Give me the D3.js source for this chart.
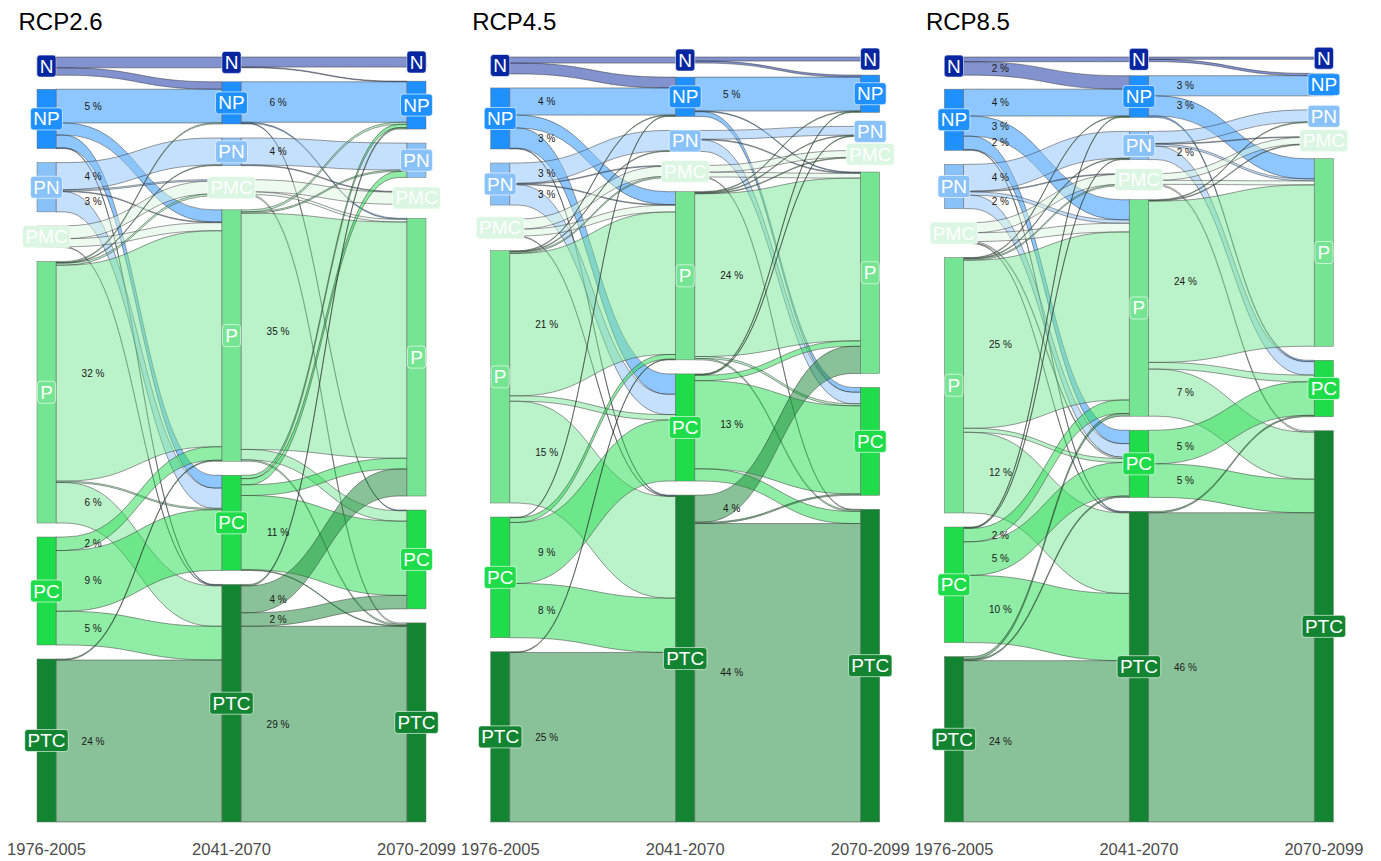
<!DOCTYPE html>
<html>
<head>
<meta charset="utf-8">
<script src="https://cdn.jsdelivr.net/npm/d3@7"></script>
<style>
  body { margin: 0; background: #ffffff; }
  text { font-family: "Liberation Sans", Arial, Helvetica, sans-serif; }
</style>
</head>
<body>
<svg id="chart" width="1381" height="861"></svg>
<script>
// Land-cover classes (top to bottom), periods (axes) and scenarios (panels)
const classes = ["N", "NP", "PN", "PMC", "P", "PC", "PTC"];
const periods = ["1976-2005", "2041-2070", "2070-2099"];
const scenarios = ["RCP2.6", "RCP4.5", "RCP8.5"];
const classColors = ["#0526a0", "#1e90ff", "#89c1f9", "#dbf6e2", "#76e593", "#1fdc4b", "#138532"];

// Transition shares in % of area.
// Rows: class in the earlier period, columns: class in the later period (order as `classes`).
const rcp26Early = [
  [1.6, 1.1, 0,   0,   0,    0,   0  ],
  [0,   5,   0,   0,   1.8,  1.9, 0.1],
  [0,   0,   4,   0.2, 0.1,  3,   0  ],
  [0,   0,   0,   1.9, 1.2,  0,   0.1],
  [0,   0.15,0.1, 0.3, 32,   0.2, 6  ],
  [0,   0,   0,   0,   2,    9,   5  ],
  [0,   0,   0,   0,   0.15, 0,   24 ]
];
const rcp26Late = [
  [1.5, 0.1, 0,   0,   0,    0,    0  ],
  [0,   6,   0,   0,   0.15, 0.1,  0  ],
  [0,   0,   4,   0.1, 0,    0,    0  ],
  [0,   0,   0,   1.8, 0.4,  0,    0.2],
  [0,   0.3, 0.2, 0,   35,   1.55, 0.2],
  [0,   0.5, 0.9, 0,   1.6,  11,   0.1],
  [0,   0.2, 0,   0,   4,    2,    29 ]
];
const rcp45Early = [
  [0.9, 1.6, 0,   0,   0,   0,   0  ],
  [0,   4,   0,   0,   1.9, 3,   0.1],
  [0,   0,   3,   0.1, 0.1, 3,   0  ],
  [0,   0,   0,   1.5, 1.0, 0,   0.1],
  [0,   0.1, 0.1, 0.2, 21,  0.8, 15 ],
  [0,   0.1, 0,   0,   0.7, 9,   8  ],
  [0,   0,   0,   0,   0.1, 0,   25 ]
];
const rcp45Late = [
  [0.6, 0.3, 0,   0,   0,   0,   0  ],
  [0,   5,   0,   0,   0.1, 0.7, 0  ],
  [0,   0,   1.3, 0,   0.1, 1.7, 0  ],
  [0,   0,   0,   1.0, 0.7, 0,   0.1],
  [0,   0.1, 0.1, 0.1, 24,  0.3, 0.2],
  [0,   0.1, 0.1, 0,   0.8, 13,  1.8],
  [0,   0,   0,   0,   4,   0.2, 44 ]
];
const rcp85Early = [
  [0.7, 2,   0,   0,   0,   0,   0  ],
  [0,   4,   0,   0,   3,   2,   0.1],
  [0,   0,   4,   0.1, 0.5, 2,   0  ],
  [0,   0,   0,   1.5, 1.3, 0.2, 0.1],
  [0,   0.1, 0.1, 0.2, 25,  0.6, 12 ],
  [0,   0.1, 0.1, 0,   2,   5,   10 ],
  [0,   0,   0,   0,   0.4, 0.2, 24 ]
];
const rcp85Late = [
  [0.35, 0.35, 0,   0,   0,   0,   0  ],
  [0,    3,    0,   0,   3,   0.2, 0  ],
  [0,    0,    1.8, 0.1, 0.3, 2,   0  ],
  [0,    0,    0,   1.0, 0.6, 0,   0.2],
  [0,    0,    0.1, 0.1, 24,  1.0, 7  ],
  [0,    0,    0,   0,   0,   5,   5  ],
  [0,    0,    0,   0,   0,   0.2, 46 ]
];
const transitions = [
  [rcp26Early, rcp26Late],
  [rcp45Early, rcp45Late],
  [rcp85Early, rcp85Late]
];

// flows at or above this share get a percentage label
const labelMin = 2;

const svg = d3.select("#chart");
const plotTop = 57, plotBottom = 822, stratumGap = 14, nodeW = 19;
const panelX = d3.scalePoint().domain(scenarios).range([0, 907.4]);
const axisX = d3.scalePoint().domain(periods).range([46.5, 416.5]);
const color = d3.scaleOrdinal().domain(classes).range(classColors);

const rowSums = m => m.map(r => d3.sum(r));
const colSums = m => classes.map((_, j) => d3.sum(m, r => r[j]));

scenarios.forEach((scen, pi) => {
  const [early, late] = transitions[pi];
  const g = svg.append("g").attr("transform", `translate(${panelX(scen)},0)`);

  // stratum sizes on each axis
  const sizes = [rowSums(early), colSums(early), colSums(late)];
  const total = d3.sum(sizes[0]);
  const h = d3.scaleLinear().domain([0, total])
    .range([0, plotBottom - plotTop - stratumGap * (classes.length - 1)]);

  const nodes = sizes.map((sz, ai) => {
    let y = plotTop;
    return sz.map((v, ci) => {
      const n = { axis: ai, cls: ci, y0: y, y1: y + h(v) };
      y = n.y1 + stratumGap;
      return n;
    });
  });

  // flows between neighbouring axes
  const flows = [];
  [early, late].forEach((m, ai) => {
    const outOff = nodes[ai].map(n => n.y0);
    const inOff = nodes[ai + 1].map(n => n.y0);
    m.forEach((row, s) => {
      row.forEach((v, t) => {
        if (v <= 0) return;
        const dh = h(v);
        flows.push({
          axis: ai, src: s, tgt: t, value: v,
          sy0: outOff[s], sy1: outOff[s] + dh,
          ty0: inOff[t], ty1: inOff[t] + dh
        });
        outOff[s] += dh;
        inOff[t] += dh;
      });
    });
  });

  // band with short straight ends and an S-curve in between
  const flowPath = f => {
    const x0 = axisX(periods[f.axis]) + nodeW / 2;
    const x1 = axisX(periods[f.axis + 1]) - nodeW / 2;
    const q = (x1 - x0) * 0.05;
    const a = x0 + q, b = x1 - q, xm = (x0 + x1) / 2;
    return `M${x0},${f.sy0}L${a},${f.sy0}C${xm},${f.sy0} ${xm},${f.ty0} ${b},${f.ty0}L${x1},${f.ty0}` +
           `L${x1},${f.ty1}L${b},${f.ty1}C${xm},${f.ty1} ${xm},${f.sy1} ${a},${f.sy1}L${x0},${f.sy1}Z`;
  };

  g.append("g").selectAll("path").data(flows).join("path")
    .attr("d", flowPath)
    .attr("fill", f => color(classes[f.src]))
    .attr("fill-opacity", 0.5)
    .attr("stroke", "#2b2b2b")
    .attr("stroke-opacity", 0.85)
    .attr("stroke-width", 0.55);

  // strata
  const allNodes = nodes.flat();
  g.append("g").selectAll("rect").data(allNodes).join("rect")
    .attr("x", n => axisX(periods[n.axis]) - nodeW / 2)
    .attr("y", n => n.y0)
    .attr("width", nodeW)
    .attr("height", n => Math.max(0, n.y1 - n.y0))
    .attr("fill", n => color(classes[n.cls]))
    .attr("stroke", "#6f6f6f")
    .attr("stroke-width", 0.5);

  // percentage labels on larger flows
  g.append("g").selectAll("text").data(flows.filter(f => f.value >= labelMin)).join("text")
    .attr("x", f => axisX(periods[f.axis]) + nodeW / 2 + 37)
    .attr("y", f => (f.sy0 + f.sy1) / 2)
    .attr("text-anchor", "middle")
    .attr("dominant-baseline", "central")
    .attr("font-size", 10)
    .attr("fill", "#1a1a1a")
    .text(f => `${Math.round(f.value)} %`);

  // stratum labels
  const lab = g.append("g").selectAll("g").data(allNodes).join("g")
    .attr("transform", n => `translate(${axisX(periods[n.axis])},${(n.y0 + n.y1) / 2})`);
  lab.append("rect")
    .attr("fill", n => color(classes[n.cls]))
    .attr("stroke", "#ffffff")
    .attr("stroke-width", 0.6)
    .attr("rx", 3).attr("ry", 3);
  const texts = lab.append("text")
    .attr("text-anchor", "middle")
    .attr("dominant-baseline", "central")
    .attr("font-size", 19)
    .attr("fill", "#ffffff")
    .text(n => classes[n.cls]);
  texts.each(function () {
    const w = this.getComputedTextLength() + 5.5;
    d3.select(this.parentNode).select("rect")
      .attr("x", -w / 2).attr("y", -11).attr("width", w).attr("height", 22);
  });

  // period axis labels
  g.append("g").selectAll("text").data(periods).join("text")
    .attr("x", d => axisX(d))
    .attr("y", 849)
    .attr("text-anchor", "middle")
    .attr("dominant-baseline", "central")
    .attr("font-size", 16.5)
    .attr("fill", "#4d4d4d")
    .text(d => d);

  // panel title
  g.append("text")
    .attr("x", 18.5)
    .attr("y", 29.5)
    .attr("font-size", 24)
    .attr("fill", "#000000")
    .text(scen);
});
</script>
</body>
</html>
